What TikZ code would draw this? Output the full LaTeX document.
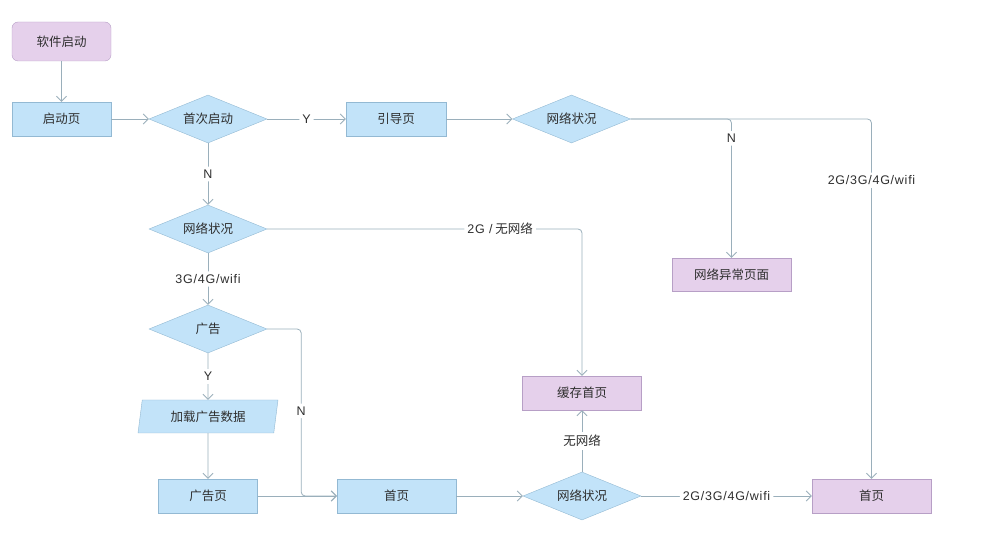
\documentclass[tikz,border=0pt]{standalone}
\usepackage{fontspec}
\setmainfont{Noto Sans CJK SC}
\newfontfamily\latinfont[LetterSpace=6]{Liberation Sans}
\usepackage{tikz}
\usetikzlibrary{shapes.geometric,arrows.meta}
\definecolor{boxblue}{HTML}{C2E3F9}
\definecolor{edgeblue}{HTML}{93B9D3}
\definecolor{boxpurple}{HTML}{E5D0EB}
\definecolor{edgepurple}{HTML}{B79FC6}
\definecolor{flowline}{HTML}{9AAFBB}
\definecolor{txt}{HTML}{2E2E2E}

\begin{document}
\begin{tikzpicture}[x=1pt,y=-1pt,font=\fontsize{12.5}{14}\selectfont,text=txt,
		page/.style={draw=edgeblue,fill=boxblue,minimum width=99pt,minimum height=34pt,inner sep=0pt},
		endpage/.style={draw=edgepurple,fill=boxpurple,minimum width=119pt,minimum height=34pt,inner sep=0pt},
		choice/.style={diamond,aspect=2.45,draw=edgeblue,fill=boxblue,minimum width=118pt,minimum height=48pt,inner sep=0pt},
		flow/.style={draw=flowline,line width=0.8pt,-{Straight Barb[length=5pt,width=10pt]},rounded corners=4pt},
		lbl/.style={fill=white,inner sep=3pt},
		lat/.style={font=\fontsize{12.5}{14}\latinfont}]
		\useasboundingbox (0,0) rectangle (997,545);
		\node[endpage,rounded corners=6pt,minimum width=99pt,minimum height=39pt] (launch) at (61.5,41.5) {软件启动};
		\node[page] (splash) at (61.5,119) {启动页};
		\node[choice] (first) at (208,119) {首次启动};
		\node[page,minimum width=100pt] (guide) at (396,119) {引导页};
		\node[choice] (netA) at (571.5,119) {网络状况};
		\node[endpage,minimum height=33pt] (neterr) at (731.5,274.5) {网络异常页面};
		\node[choice] (netB) at (208,229) {网络状况};
		\node[choice] (ad) at (208,329) {广告};
		\node[trapezium,trapezium left angle=70,trapezium right angle=110,trapezium stretches body,draw=edgeblue,fill=boxblue,minimum width=140pt,minimum height=33pt,inner sep=0pt] (loadad) at (208,416.5) {加载广告数据};
		\node[page] (adpage) at (208,496) {广告页};
		\node[page,minimum width=119pt] (home) at (396.5,496) {首页};
		\node[endpage] (cache) at (582,393) {缓存首页};
		\node[choice] (netC) at (582,496) {网络状况};
		\node[endpage] (homeok) at (871.5,496) {首页};

		\draw[flow] (launch) -- (splash);
		\draw[flow] (splash) -- (first);
		\draw[flow] (first) -- node[lbl,lat] (yfirst) {Y} (guide);
		\draw[flow] (guide) -- (netA);
		\draw[flow] (netA.east) -| node[lbl,lat,pos=0.585] (fastA) {2G/3G/4G/wifi} (homeok.north);
		\draw[flow] (netA.east) -| node[lbl,lat,pos=0.57] (noA) {N} (neterr.north);
		\draw[flow] (first) -- node[lbl,lat] (nofirst) {N} (netB);
		\draw[flow] (netB.east) -| node[lbl,pos=0.37] (slowB) {{\latinfont 2G /} 无网络} (cache.north);
		\draw[flow] (netB) -- node[lbl,lat] (fastB) {3G/4G/wifi} (ad);
		\draw[flow] (ad) -- node[lbl,lat] (yad) {Y} (loadad);
		\draw[flow] (loadad) -- (adpage);
		\draw[flow] (ad.east) -- ++(34,0) |- node[lbl,lat,pos=0.245] (noad) {N} (home.west);
		\draw[flow] (adpage) -- (home);
		\draw[flow] (home) -- (netC);
		\draw[flow] (netC) -- node[lbl] (offC) {无网络} (cache);
		\draw[flow] (netC) -- node[lbl,lat] (onC) {2G/3G/4G/wifi} (homeok);
	\end{tikzpicture}
\end{document}
